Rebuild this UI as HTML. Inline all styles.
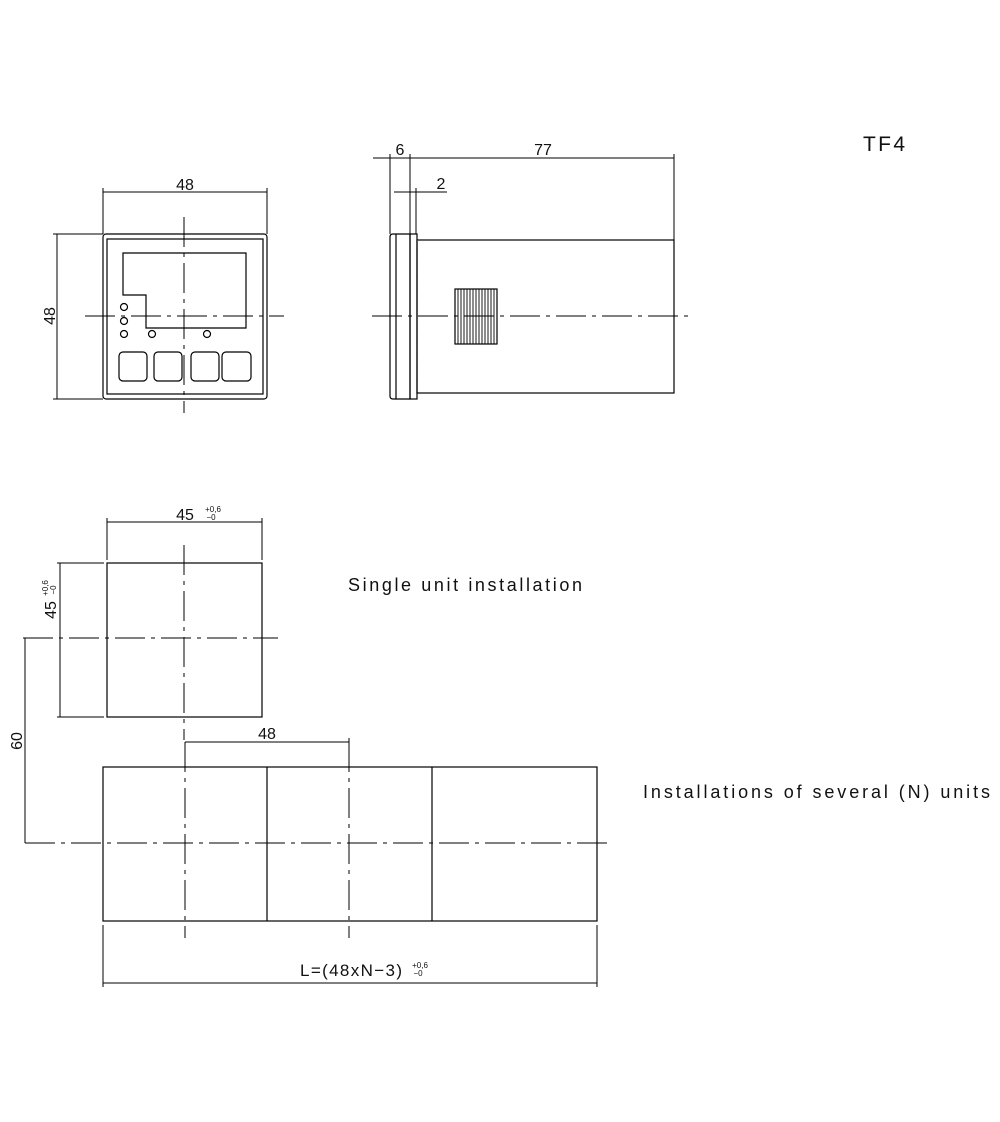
<!DOCTYPE html>
<html><head><meta charset="utf-8"><style>html,body{margin:0;padding:0;background:#fff}svg{display:block}</style></head>
<body>
<svg width="1000" height="1122" viewBox="0 0 1000 1122" xmlns="http://www.w3.org/2000/svg" font-family="Liberation Sans, sans-serif" fill="none" stroke="#000" stroke-width="1.2">
<defs><style>.c{stroke-dasharray:30 6 4 6}.t{fill:#111;stroke:none}</style></defs>
<!-- FRONT VIEW -->
<rect x="103" y="234" width="164" height="165" rx="3"/>
<rect x="107" y="239" width="156" height="155"/>
<path d="M123 253H246V328H146V295H123Z"/>
<circle cx="124" cy="307" r="3.5"/><circle cx="124" cy="321" r="3.5"/><circle cx="124" cy="334" r="3.5"/><circle cx="152" cy="334" r="3.5"/><circle cx="207" cy="334" r="3.5"/>
<rect x="119" y="352" width="28" height="29" rx="4"/><rect x="154" y="352" width="28" height="29" rx="4"/><rect x="191" y="352" width="28" height="29" rx="4"/><rect x="222" y="352" width="29" height="29" rx="4"/>
<path class="c" d="M184 217V413M85 316H284" stroke-width="1"/>
<path d="M103 188V234M267 188V234M103 192H267M53 234H103M53 399H103M57 234V399" stroke-width="1"/>
<text class="t" x="185" y="190" font-size="16" text-anchor="middle">48</text>
<text class="t" transform="translate(55,316) rotate(-90)" font-size="16" text-anchor="middle">48</text>
<!-- SIDE VIEW -->
<path d="M393 234H410V399H393Q390 399 390 396V237Q390 234 393 234Z"/>
<path d="M396 234V399"/>
<rect x="410" y="234" width="7" height="165"/>
<rect x="417" y="240" width="257" height="153"/>
<path d="M417 240V393" stroke-dasharray="8 5" stroke="#fff" stroke-width="1.5"/>
<path d="M417 240V393" stroke-dasharray="8 5"/>
<rect x="455" y="289" width="42" height="55"/>
<path d="M458 289V344M461 289V344M464 289V344M467 289V344M470 289V344M473 289V344M476 289V344M479 289V344M482 289V344M485 289V344M488 289V344M491 289V344M494 289V344" stroke-width="0.9"/>
<path class="c" d="M372 316H692" stroke-width="1"/>
<path d="M373 158H674M390 154V234M410 154V234M674 154V240M394 192H447M416 188V234" stroke-width="1"/>
<text class="t" x="400" y="155" font-size="16" text-anchor="middle">6</text>
<text class="t" x="543" y="155" font-size="16" text-anchor="middle">77</text>
<text class="t" x="441" y="189" font-size="16" text-anchor="middle">2</text>
<text class="t" x="863" y="151" font-size="21" textLength="42" lengthAdjust="spacing">TF4</text>
<!-- SINGLE CUTOUT -->
<rect x="107" y="563" width="155" height="154"/>
<path class="c" d="M184 545V740M23 638H278" stroke-width="1"/>
<path d="M107 518V560M262 518V560M107 522H262M57 563H104M57 717H104M60 563V717M25 638V843M185 742H349M349 738V742" stroke-width="1"/>
<text class="t" x="185" y="520" font-size="16" text-anchor="middle">45</text>
<text class="t" x="213" y="512" font-size="8" text-anchor="middle">+0,6</text>
<text class="t" x="211" y="520" font-size="8" text-anchor="middle">−0</text>
<g transform="translate(56,610) rotate(-90)"><text class="t" x="0" y="0" font-size="16" text-anchor="middle">45</text><text class="t" x="22" y="-8" font-size="8" text-anchor="middle">+0,6</text><text class="t" x="20" y="0" font-size="8" text-anchor="middle">−0</text></g>
<text class="t" transform="translate(22,741) rotate(-90)" font-size="16" text-anchor="middle">60</text>
<text class="t" x="267" y="739" font-size="16" text-anchor="middle">48</text>
<text class="t" x="348" y="591" font-size="18" textLength="234" lengthAdjust="spacing">Single unit installation</text>
<!-- MULTI -->
<rect x="103" y="767" width="494" height="154"/>
<path d="M267 767V921M432 767V921"/>
<path class="c" d="M185 742V938M349 742V938M25 843H612" stroke-width="1"/>
<path d="M103 925V987M597 925V987M103 983H597" stroke-width="1"/>
<text class="t" x="300" y="976" font-size="17" textLength="102" lengthAdjust="spacing">L=(48xN−3)</text>
<text class="t" x="420" y="968" font-size="8" text-anchor="middle">+0,6</text>
<text class="t" x="418" y="976" font-size="8" text-anchor="middle">−0</text>
<text class="t" x="643" y="798" font-size="18" textLength="347" lengthAdjust="spacing">Installations of several (N) units</text>
</svg>
</body></html>
